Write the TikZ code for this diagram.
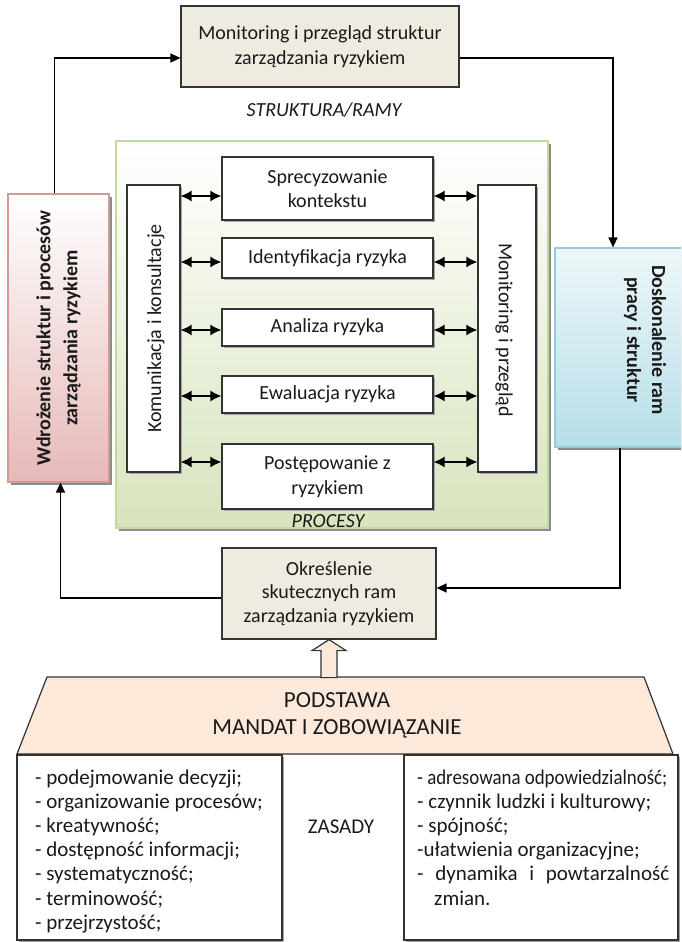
\documentclass[tikz,border=0pt]{standalone}
\usepackage{fontspec}
\setmainfont{Carlito}
\usetikzlibrary{arrows.meta,calc,shadows}

\definecolor{ink}{HTML}{1A1A1A}
\definecolor{edge}{HTML}{333333}
\definecolor{panel}{HTML}{EEECE1}
\definecolor{peach}{HTML}{FDE9D9}
\definecolor{grfill}{HTML}{D7E4BD}
\definecolor{grbord}{HTML}{C4D99E}
\definecolor{rdfill}{HTML}{E6B9B8}
\definecolor{rdbord}{HTML}{D99694}
\definecolor{blfill}{HTML}{B7DEE8}
\definecolor{blbord}{HTML}{93CDDD}

\begin{document}
\begin{tikzpicture}[x=1pt,y=-1pt,
  txt/.style={font=\fontsize{20}{24.5}\selectfont, text=ink},
  box/.style={draw=edge, line width=1.2pt, inner sep=2pt, align=center, txt},
  shade/.style={drop shadow={shadow xshift=2.5pt, shadow yshift=-2.5pt, fill=black!45, opacity=1}},
  smallshade/.style={drop shadow={shadow xshift=1.5pt, shadow yshift=-1.5pt, fill=black!35, opacity=1}},
  conn/.style={line width=1.3pt, draw=black, -{Triangle[length=10pt,width=9pt]}},
  dbl/.style={line width=1.4pt, {Latex[length=11pt,width=11pt]}-{Latex[length=11pt,width=11pt]}},
  item/.style={anchor=base west, inner sep=0pt, text=ink, font=\fontsize{21}{24}\selectfont}
]
\useasboundingbox (0,0) rectangle (681,942);
\clip (0,0) rectangle (681,942);
\fill[white] (0,0) rectangle (681,942);

% framework loop
\node[box, fill=panel, minimum width=278pt, minimum height=81pt] (topbox) at (320,46.5)
  {Monitoring i przegląd struktur\\zarządzania ryzykiem};
\node[txt] (ramy) at (324,110) {\itshape STRUKTURA/RAMY};

\node[draw=rdbord, line width=1.2pt, top color=white, bottom color=rdfill,
      minimum width=101pt, minimum height=288pt, shade] (red) at (58.5,338) {};
\node[txt, rotate=90, align=center, font=\fontsize{20}{27}\selectfont\bfseries] (redt) at (red.center)
  {Wdrożenie struktur i procesów\\zarządzania ryzykiem};

\node[draw=blbord, line width=1.2pt, top color=blfill!25, bottom color=blfill,
      minimum width=180pt, minimum height=199pt, shade] (dosk) at (645,347.5) {};
\node[txt, rotate=-90, align=center, font=\fontsize{20}{25}\selectfont\bfseries] (doskt) at (645,340)
  {Doskonalenie ram\\pracy i struktur};

% process panel
\node[draw=grbord, line width=1.2pt, top color=white, bottom color=grfill,
      minimum width=432pt, minimum height=387pt, shade] (proc) at (332,334.5) {};
\node[txt] (procesy) at (328,521) {\itshape PROCESY};

\node[box, fill=white, minimum width=53pt, minimum height=287pt, smallshade] (kom) at (153.5,328.5) {};
\node[txt, rotate=90] (komt) at (156,328.5) {Komunikacja i konsultacje};
\node[box, fill=white, minimum width=58pt, minimum height=287pt, smallshade] (mon) at (507,328.5) {};
\node[txt, rotate=-90] (mont) at (504,330) {Monitoring i przegląd};

\node[box, fill=white, minimum width=211pt, minimum height=63pt, smallshade] (spec) at (327.5,188.5) {Sprecyzowanie\\kontekstu};
\node[box, fill=white, minimum width=211pt, minimum height=40pt, smallshade] (iden) at (327.5,258) {Identyfikacja ryzyka};
\node[box, fill=white, minimum width=211pt, minimum height=37pt, smallshade] (anal) at (327.5,327.5) {Analiza ryzyka};
\node[box, fill=white, minimum width=211pt, minimum height=37pt, smallshade] (ewal) at (327.5,394.5) {Ewaluacja ryzyka};
\node[box, fill=white, minimum width=211pt, minimum height=65pt, smallshade] (post) at (327.5,476.5) {Postępowanie z\\ryzykiem};

\foreach \n/\s in {spec/-7.5pt, iden/-4pt, anal/-2.5pt, ewal/-1.5pt, post/14.5pt} {
  \coordinate (pl) at ([yshift=\s]\n.west);
  \coordinate (pr) at ([yshift=\s]\n.east);
  \draw[dbl] (kom.east |- pl) -- (pl);
  \draw[dbl] (pr) -- (mon.west |- pr);
}

% framework design box
\node[box, fill=panel, minimum width=214pt, minimum height=91pt, font=\fontsize{20}{23.5}\selectfont] (okr) at (329,593.5)
  {Określenie\\skutecznych ram\\zarządzania ryzykiem};

\draw[conn] ([xshift=-4pt]red.north) |- ([yshift=-11.5pt]topbox.west);
\draw[conn] ([yshift=-11.5pt]topbox.east) -| ([xshift=-32pt]dosk.north);
\draw[conn] ([xshift=-25pt]dosk.south) |- ([yshift=5.5pt]okr.east);
\draw[conn] ([yshift=-4.5pt]okr.west) -| ([xshift=2pt]red.south);

% foundation
\draw[draw=edge, line width=1.2pt, fill=peach] (47,677) -- (644,677) -- (673,754) -- (17,754) -- cycle;
\node[txt, align=center, font=\fontsize{23}{27}\selectfont] (pods) at (337,715.5) {PODSTAWA\\MANDAT I ZOBOWIĄZANIE};

\draw[draw=edge, line width=1.2pt, fill=peach] (okr.south) -- ++(17,11) -- ++(-9,0) -- ++(0,27)
  -- ++(-16,0) -- ++(0,-27) -- ++(-9,0) -- cycle;

% principles
\node[box, fill=white, minimum width=265pt, minimum height=185pt, smallshade] (zl) at (149.5,847.5) {};
\node[box, fill=white, minimum width=274pt, minimum height=185pt, smallshade] (zr) at (541,847.5) {};
\node[txt, font=\fontsize{21}{24}\selectfont] (zasady) at (341,827) {ZASADY};

\foreach \t [count=\i from 0] in {- podejmowanie decyzji;, - organizowanie procesów;, - kreatywność;,
    - dostępność informacji;, - systematyczność;, - terminowość;, - przejrzystość;} {
  \node[item] (li\i) at (35,{784+24.2*\i}) {\t};
}

\node[item] (ri0) at (417,784) {\scalebox{0.9}[1]{- adresowana odpowiedzialność;}};
\node[item] (ri1) at (417,808.2) {- czynnik ludzki i kulturowy;};
\node[item] (ri2) at (417,832.4) {- spójność;};
\node[item] (ri3) at (417,856.6) {-ułatwienia organizacyjne;};
\node[item] (ri4) at (417,880.8) {\makebox[252pt][s]{- dynamika i powtarzalność}};
\node[item] (ri5) at (434,905) {zmian.};
\end{tikzpicture}
\end{document}
